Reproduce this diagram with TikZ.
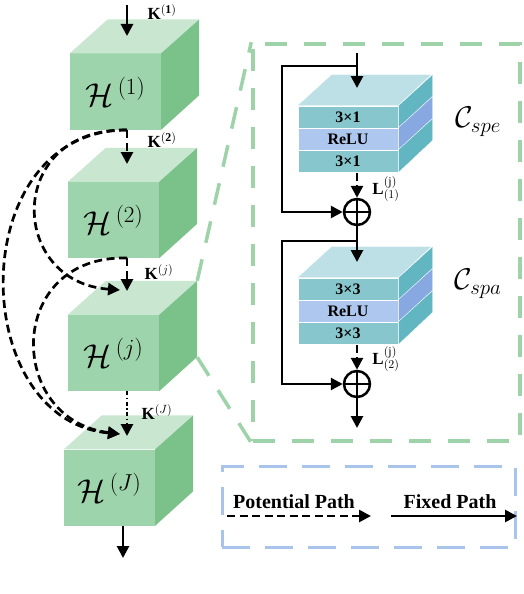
\RequirePackage{fix-cm}
\documentclass[tikz,border=0pt]{standalone}
\usepackage{fontspec}
\setmainfont{Liberation Serif}
\usetikzlibrary{calc,arrows.meta}

\definecolor{hfrontc}{RGB}{157,212,171}
\definecolor{htopc}{RGB}{200,230,208}
\definecolor{hsidec}{RGB}{122,194,138}
\definecolor{convfront}{RGB}{136,198,205}
\definecolor{convside}{RGB}{98,182,193}
\definecolor{convtop}{RGB}{189,224,230}
\definecolor{relufront}{RGB}{174,199,238}
\definecolor{reluside}{RGB}{136,168,226}
\definecolor{panelc}{RGB}{158,211,170}
\definecolor{legendc}{RGB}{169,196,234}

\tikzset{
  fixed/.style={line width=2.7pt, -{Triangle[length=12pt,width=12pt]}},
  potential/.style={fixed, dash pattern=on 8pt off 4.5pt},
  hface/.style={fill=hfrontc, minimum width=91pt, minimum height=76pt, inner sep=0pt, font=\fontsize{33}{35}\selectfont},
  conv/.style={fill=convfront, draw=white, line width=1pt, minimum width=100pt, minimum height=22pt, inner sep=0pt, font=\fontsize{16}{17}\selectfont\bfseries},
  relu/.style={conv, fill=relufront},
  klabel/.style={font=\fontsize{17}{18}\selectfont},
  oplus/.style={circle, draw, line width=2.5pt, minimum size=26pt, inner sep=0pt}
}

\begin{document}
\begin{tikzpicture}[x=1pt,y=-1pt]
  \useasboundingbox (0,0) rectangle (524,594);

  % green cubes
  \node[hface] (h1) at (115.5, 91.5) {$\mathcal{H}^{\,(1)}$};
  \node[hface] (h2) at (113.5,220.0) {$\mathcal{H}^{\,(2)}$};
  \node[hface] (hj) at (113.5,353.0) {$\mathcal{H}^{\,(j)}$};
  \node[hface] (hJ) at (109.5,487.5) {$\mathcal{H}^{\,(J)}$};

  \fill[htopc] (h1.north west) -- ++(38,-34) -- ++(91,0) -- (h1.north east) -- cycle;
  \fill[hsidec] (h1.north east) -- ++(38,-34) -- ++(0,76) -- (h1.south east) -- cycle;
  \fill[htopc] (h2.north west) -- ++(38,-34) -- ++(91,0) -- (h2.north east) -- cycle;
  \fill[hsidec] (h2.north east) -- ++(38,-34) -- ++(0,76) -- (h2.south east) -- cycle;
  \fill[htopc] (hj.north west) -- ++(38,-34) -- ++(91,0) -- (hj.north east) -- cycle;
  \fill[hsidec] (hj.north east) -- ++(38,-34) -- ++(0,76) -- (hj.south east) -- cycle;
  \fill[htopc] (hJ.north west) -- ++(38,-34) -- ++(91,0) -- (hJ.north east) -- cycle;
  \fill[hsidec] (hJ.north east) -- ++(38,-34) -- ++(0,76) -- (hJ.south east) -- cycle;

  \coordinate (in)    at (127,  5);
  \coordinate (h1in)  at (127, 36);
  \coordinate (h1out) at (127,130);
  \coordinate (h2in)  at (127,164);
  \coordinate (h2out) at (127,258);
  \coordinate (hjin)  at (127,291);
  \coordinate (hjend) at (120,290);
  \coordinate (hjout) at (127,391);
  \coordinate (hJin)  at (127,436);
  \coordinate (hJend) at (120,434);
  \coordinate (hJout) at (123,526);
  \coordinate (out)   at (123,558);

  \node[klabel] (k1) at (162, 12) {\textbf{K}$^{\mathbf{(1)}}$};
  \node[klabel] (k2) at (162,140) {\textbf{K}$^{\mathbf{(2)}}$};
  \node[klabel] (kj) at (159,272) {\textbf{K}$^{(j)}$};
  \node[klabel] (kJ) at (157,412) {\textbf{K}$^{(J)}$};

  \draw[fixed] (in) -- (h1in);
  \draw[potential] (h1out) -- (h2in);
  \draw[potential] (h2out) -- (hjin);
  \draw[fixed, dash pattern=on 4pt off 2.5pt on 1.5pt off 2.5pt] (hjout) -- (hJin);
  \draw[fixed] (hJout) -- (out);

  \draw[potential] (h1out) .. controls (5,128) and (8,282) .. (hjend);
  \draw[potential] (h1out) .. controls (-36,130) and (-34,420) .. (hJend);
  \draw[potential] (h2out) .. controls (5,255) and (6,420) .. (hJend);

  % zoomed residual block
  \node[draw=panelc, line width=3.5pt, dash pattern=on 22pt off 17pt, minimum width=267pt, minimum height=397pt] (panel) at (386.5,242.5) {};
  \draw[panelc, line width=3.5pt, dash pattern=on 22pt off 17pt] ($(hj.north east)+(38,-34)$) -- (panel.north west);
  \draw[panelc, line width=3.5pt, dash pattern=on 22pt off 17pt] ($(hj.south east)+(38,-34)$) -- (panel.south west);

  \node[conv] (c1a) at (348,117) {3×1};
  \node[relu] (c1b) at (348,139) {ReLU};
  \node[conv] (c1c) at (348,161) {3×1};
  \filldraw[fill=convtop, draw=white] (c1a.north west) -- ++(34,-31) -- ++(100,0) -- (c1a.north east) -- cycle;
  \filldraw[fill=convside, draw=white] (c1a.north east) -- ++(34,-31) -- ++(0,22) -- (c1a.south east) -- cycle;
  \filldraw[fill=reluside, draw=white] (c1b.north east) -- ++(34,-31) -- ++(0,22) -- (c1b.south east) -- cycle;
  \filldraw[fill=convside, draw=white] (c1c.north east) -- ++(34,-31) -- ++(0,22) -- (c1c.south east) -- cycle;

  \node[conv] (c2a) at (348,289) {3×3};
  \node[relu] (c2b) at (348,311) {ReLU};
  \node[conv] (c2c) at (348,333) {3×3};
  \filldraw[fill=convtop, draw=white] (c2a.north west) -- ++(34,-31) -- ++(100,0) -- (c2a.north east) -- cycle;
  \filldraw[fill=convside, draw=white] (c2a.north east) -- ++(34,-31) -- ++(0,22) -- (c2a.south east) -- cycle;
  \filldraw[fill=reluside, draw=white] (c2b.north east) -- ++(34,-31) -- ++(0,22) -- (c2b.south east) -- cycle;
  \filldraw[fill=convside, draw=white] (c2c.north east) -- ++(34,-31) -- ++(0,22) -- (c2c.south east) -- cycle;

  \node[font=\fontsize{30}{32}\selectfont] (cspe) at (478,122) {$\mathcal{C}_{spe}$};
  \node[font=\fontsize{30}{32}\selectfont] (cspa) at (478,284) {$\mathcal{C}_{spa}$};

  \node[oplus] (p1) at (357,212) {};
  \node[oplus] (p2) at (357,384) {};
  \draw[line width=2.5pt] (p1.north) -- (p1.south) (p1.west) -- (p1.east);
  \draw[line width=2.5pt] (p2.north) -- (p2.south) (p2.west) -- (p2.east);

  \coordinate (bin) at (357, 53);
  \coordinate (s1)  at (357, 66);
  \coordinate (c1in) at (357, 88);
  \coordinate (s2)  at (357,241);
  \coordinate (c2in) at (357,262);
  \coordinate (bout) at (357,428);

  \node[font=\fontsize{17}{18}\selectfont] (l1) at (386,189) {$\mathbf{L}^{(\mathrm{j})}_{(1)}$};
  \node[font=\fontsize{17}{18}\selectfont] (l2) at (386,359) {$\mathbf{L}^{(\mathrm{j})}_{(2)}$};

  \draw[fixed] (bin) -- (c1in);
  \draw[fixed] (s1) -- ++(-75,0) |- (p1.west);
  \draw[potential] (c1c.south -| p1) -- (p1.north);
  \draw[fixed] (p1.south) -- (c2in);
  \draw[fixed] (s2) -- ++(-75,0) |- (p2.west);
  \draw[potential] (c2c.south -| p2) -- (p2.north);
  \draw[fixed] (p2.south) -- (bout);

  % legend
  \node[draw=legendc, line width=3pt, dash pattern=on 28pt off 15pt, minimum width=293pt, minimum height=81pt] (legend) at (368.5,506.5) {};
  \node[font=\fontsize{20}{21}\selectfont\bfseries] (pot) at (294,502) {Potential Path};
  \node[font=\fontsize{20}{21}\selectfont\bfseries] (fix) at (450,502) {Fixed Path};
  \coordinate (pa) at (227,516);
  \coordinate (pb) at (371,516);
  \coordinate (fa) at (391,516);
  \coordinate (fb) at (517,516);
  \draw[potential] (pa) -- (pb);
  \draw[fixed] (fa) -- (fb);
\end{tikzpicture}
\end{document}
